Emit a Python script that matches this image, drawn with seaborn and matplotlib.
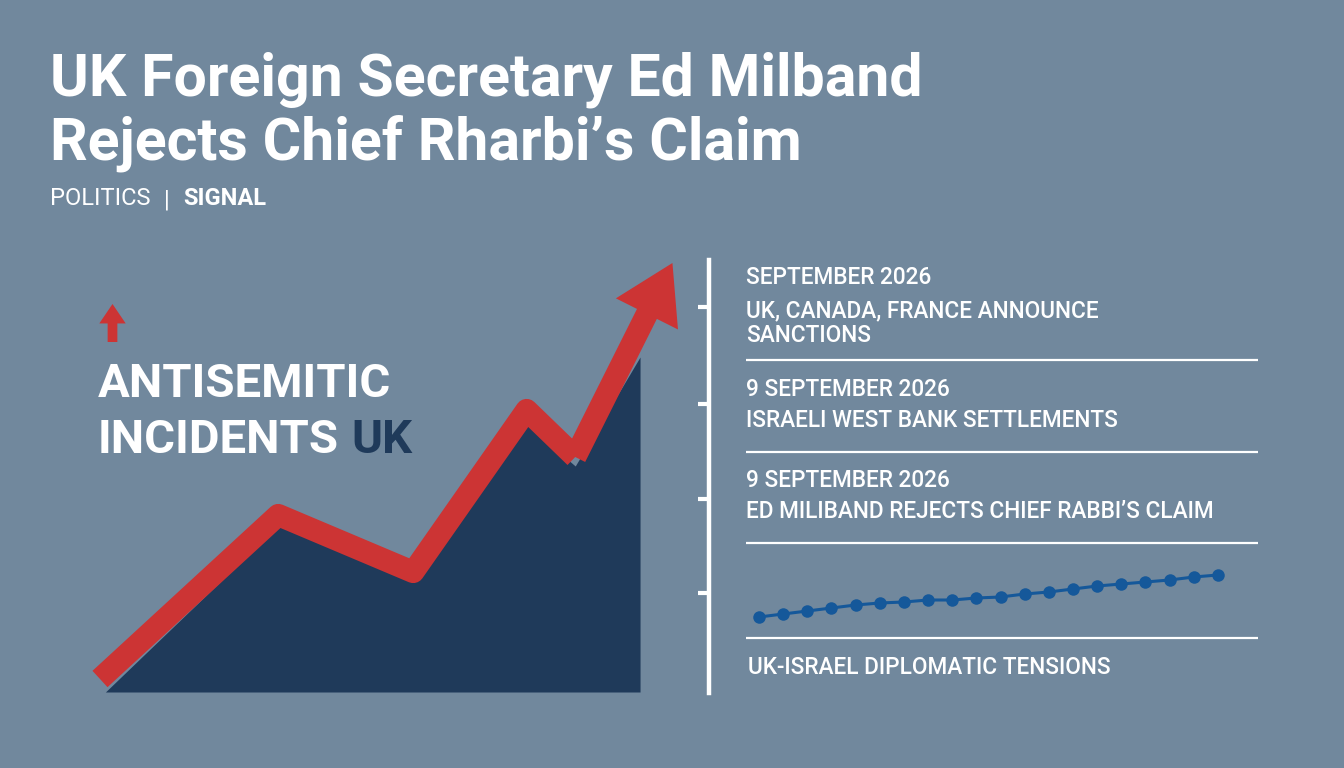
import numpy as np
import pandas as pd
import seaborn as sns
import matplotlib.pyplot as plt

# 颜色
BG = "#71889d"
NAVY = "#1f3a5a"
RED = "#cc3434"
DOT = "#15589a"

# 左侧趋势图数据
trend_x = [1, 33, 58, 79, 88, 100]
trend_fill = [0, 166, 112, 268, 226, 335]
arrow_x = [0, 33, 58, 79, 88]
arrow_y = [13, 177, 120, 282, 235]
arrow_tip = (106, 429)

# 右侧时间线
event_dates = ["SEPTEMBER 2026", "9 SEPTEMBER 2026", "9 SEPTEMBER 2026"]
event_titles = [["UK, CANADA, FRANCE ANNOUNCE", "SANCTIONS"],
                ["ISRAELI WEST BANK SETTLEMENTS"],
                ["ED MILIBAND REJECTS CHIEF RABBI’S CLAIM"]]
tension_label = "UK-ISRAEL DIPLOMATIC TENSIONS"
tension_index = [21, 24, 27, 30, 33, 35, 36, 38, 38, 40,
                 41, 44, 46, 49, 52, 54, 56, 58, 61, 63]

title_lines = ["UK Foreign Secretary Ed Milband", "Rejects Chief Rharbi’s Claim"]

sns.set_style("white", {"axes.facecolor": "none", "figure.facecolor": BG})
plt.rcParams['font.family'] = ['Roboto', 'DejaVu Sans']

W, H = 1344, 768
fig = plt.figure(figsize=(W / 100, H / 100), dpi=100, facecolor=BG)


def fx(x):
    return x / W


def fy(y):
    return 1 - y / H


# 标题
for txt, base in zip(title_lines, [96, 159]):
    fig.text(fx(50), fy(base), txt, color="white", fontsize=42.5,
             fontweight="bold", va="baseline")
fig.text(fx(50), fy(205), "POLITICS", color="white", fontsize=17, va="baseline")
fig.text(fx(164), fy(206), "|", color="white", fontsize=17, va="baseline")
fig.text(fx(183), fy(205), "SIGNAL", color="white", fontsize=17,
         fontweight="bold", va="baseline")

# 左侧面积+箭头
ax = fig.add_axes([fx(100), fy(692), 580 / W, 430 / H])
ax.fill_between(trend_x, 0, trend_fill, color=NAVY, lw=0)
df = pd.DataFrame({"x": arrow_x, "y": arrow_y})
sns.lineplot(data=df, x="x", y="y", ax=ax, color=RED, lw=16, sort=False,
             solid_joinstyle="round", solid_capstyle="butt", clip_on=False)
ax.annotate("", xy=arrow_tip, xytext=(arrow_x[-1], arrow_y[-1]),
            arrowprops=dict(arrowstyle="simple,head_length=41,head_width=50,tail_width=16",
                            mutation_scale=1, fc=RED, ec="none", shrinkA=0, shrinkB=0),
            annotation_clip=False)
ax.set_xlim(0, 107.4)
ax.set_ylim(0, 430)
ax.axis("off")

# 小红箭头
ax.annotate("", xy=(112.5, H - 304), xytext=(112.5, H - 342),
            xycoords="figure pixels", textcoords="figure pixels",
            arrowprops=dict(arrowstyle="simple,head_length=14,head_width=19,tail_width=7",
                            mutation_scale=1, fc=RED, ec="none", shrinkA=0, shrinkB=0))

fig.text(fx(98), fy(397), "ANTISEMITIC", color="white", fontsize=34,
         fontweight="bold", va="baseline")
t = fig.text(fx(98), fy(453), "INCIDENTS", color="white", fontsize=34,
             fontweight="bold", va="baseline")
fig.canvas.draw()
bb = t.get_window_extent(fig.canvas.get_renderer())
fig.text((bb.x1 + 12) / W, fy(453), "UK", color=NAVY, fontsize=34,
         fontweight="bold", va="baseline")

# 右侧时间线
axr = fig.add_axes([fx(709), fy(693), (1260 - 709) / W, (693 - 260) / H])
axr.set_xlim(709, 1260)
axr.set_ylim(693, 260)
for s in ["top", "right", "bottom"]:
    axr.spines[s].set_visible(False)
axr.spines["left"].set_color("white")
axr.spines["left"].set_linewidth(3.2)
axr.set_xticks([])
axr.set_yticks([307, 404, 499, 593])
axr.tick_params(axis="y", direction="out", length=8, width=3, color="white",
                labelleft=False, left=True)
axr.hlines([360, 452, 543, 638], 746, 1258, color="white", lw=1.6)

date_base = [284, 396, 487]
title_base = [317, 427, 518]
for d, lines, yb, yt in zip(event_dates, event_titles, date_base, title_base):
    axr.text(746, yb, d, color="white", fontsize=16.3, fontweight="medium", va="baseline")
    for i, ln in enumerate(lines):
        axr.text(746, yt + i * 25, ln, color="white", fontsize=16.3,
                 fontweight="medium", va="baseline")
axr.text(748, 674, tension_label, color="white", fontsize=16.3,
         fontweight="medium", va="baseline")

# 紧张指数点线
axt = fig.add_axes([fx(746), fy(638), (1258 - 746) / W, 93 / H])
tdf = pd.DataFrame({"i": np.arange(len(tension_index)), "v": tension_index})
sns.lineplot(data=tdf, x="i", y="v", ax=axt, color=DOT, lw=2.2, marker="o",
             markersize=9, markeredgewidth=0, clip_on=False)
axt.set_xlim(-0.54, 20.66)
axt.set_ylim(0, 93)
axt.axis("off")

fig.savefig("out.png", dpi=100, facecolor=BG)
